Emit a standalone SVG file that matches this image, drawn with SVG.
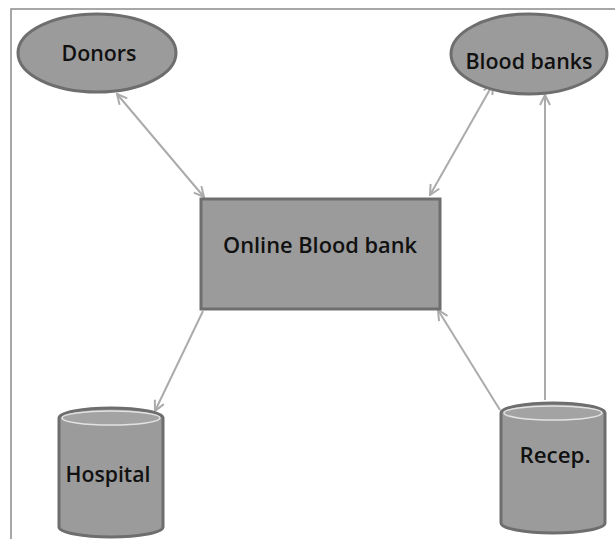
<svg xmlns="http://www.w3.org/2000/svg" width="615" height="539" viewBox="0 0 615 539">
<defs>
<style>
.shape{fill:#9b9b9b;stroke:#6e6e6e;stroke-width:3}
.rim{fill:#a3a3a3;stroke:#e2e2e2;stroke-width:1.5}
.lbl{font-family:"Open Sans","DejaVu Sans",sans-serif;font-size:21px;font-weight:600;fill:#111;text-anchor:middle}
.conn{stroke:#ababab;stroke-width:2;fill:none}
.frame{stroke:#8a8a8a;stroke-width:1.5;fill:none}
</style>
<marker id="ah" viewBox="0 0 12 12" refX="11" refY="6" markerWidth="12" markerHeight="12" markerUnits="userSpaceOnUse" orient="auto-start-reverse">
<path d="M1,1 L11,6 L1,11" fill="none" stroke="#ababab" stroke-width="2"/>
</marker>
</defs>
<rect width="615" height="539" fill="#ffffff"/>
<path class="frame" d="M11,539 L11,9 L615,9"/>
<g id="connectors">
<line class="conn" x1="117" y1="94" x2="204" y2="197" marker-start="url(#ah)" marker-end="url(#ah)"/>
<line class="conn" x1="493" y1="84" x2="430" y2="195" marker-start="url(#ah)" marker-end="url(#ah)"/>
<line class="conn" x1="203" y1="311" x2="155" y2="411" marker-end="url(#ah)"/>
<line class="conn" x1="500" y1="410" x2="438" y2="310" marker-end="url(#ah)"/>
<line class="conn" x1="545" y1="400" x2="545" y2="95" marker-end="url(#ah)"/>
</g>
<g id="donors">
<ellipse class="shape" cx="97" cy="53" rx="79" ry="39"/>
<text class="lbl" x="99" y="61" textLength="75" lengthAdjust="spacingAndGlyphs">Donors</text>
</g>
<g id="blood-banks">
<ellipse class="shape" cx="529" cy="54" rx="78" ry="40"/>
<text class="lbl" x="529" y="69" textLength="127" lengthAdjust="spacingAndGlyphs">Blood banks</text>
</g>
<g id="online-blood-bank">
<rect class="shape" x="201" y="199" width="239" height="110"/>
<text class="lbl" x="320" y="253" textLength="194" lengthAdjust="spacingAndGlyphs">Online Blood bank</text>
</g>
<g id="hospital">
<path class="shape" d="M59,418 L59,527 A52,10 0 0 0 163,527 L163,418 A52,10 0 0 0 59,418 Z"/>
<ellipse class="rim" cx="111" cy="418" rx="49" ry="7"/>
<text class="lbl" x="108" y="482" textLength="85" lengthAdjust="spacingAndGlyphs">Hospital</text>
</g>
<g id="recep">
<path class="shape" d="M501,413 L501,523 A52,10 0 0 0 605,523 L605,413 A52,10 0 0 0 501,413 Z"/>
<ellipse class="rim" cx="553" cy="413" rx="49" ry="7"/>
<text class="lbl" x="555" y="463" textLength="71" lengthAdjust="spacingAndGlyphs">Recep.</text>
</g>
</svg>
